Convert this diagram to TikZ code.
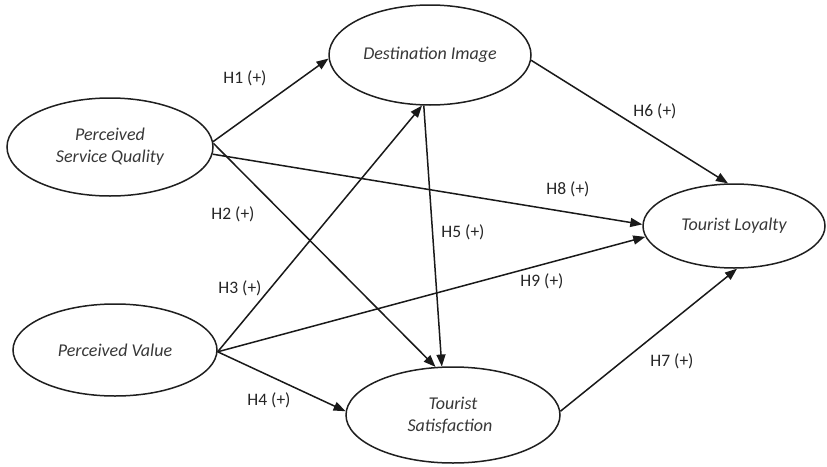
\documentclass[tikz,border=0pt]{standalone}
\usepackage{fontspec}
\setmainfont{Carlito}
\usetikzlibrary{shapes.geometric,arrows.meta}
\begin{document}
\begin{tikzpicture}[x=1pt,y=-1pt,
 latent/.style={ellipse,draw=black!88,line width=1.5pt,inner sep=0pt,align=center,font=\fontsize{18}{22}\selectfont\itshape,text=black!78},
 hpath/.style={draw=black!90,line width=1.5pt,-{Triangle[length=12pt,width=9pt]}},
 hlab/.style={font=\fontsize{17.5}{20}\selectfont,text=black!85,inner sep=0pt}]
\useasboundingbox[fill=white] (0,0) rectangle (827,466);
\node[latent,minimum width=206pt,minimum height=98pt] (psq) at (110,147) {Perceived\\Service Quality};
\node[latent,minimum width=204pt,minimum height=92pt] (pv) at (115,350) {Perceived Value};
\node[latent,minimum width=202pt,minimum height=100pt] (di) at (430,55) {Destination Image};
\node[latent,minimum width=214pt,minimum height=96pt] (ts) at (453,415) {Tourist\\Satisfaction\hspace*{6pt}};
\node[latent,minimum width=182pt,minimum height=84pt] (tl) at (734,226) {Tourist Loyalty};

\draw[hpath] (psq.3) -- (di.182);
\draw[hpath] (psq.2) -- (ts.110);
\draw[hpath] (psq.-4) -- (tl.179);
\draw[hpath] (pv.-1) -- (di.261);
\draw[hpath] (pv.-1) -- (tl.187);
\draw[hpath] (pv.-1) -- (ts.178);
\draw[hpath] (di.263) -- (ts.103);
\draw[hpath] (di.-3) -- (tl.98);
\draw[hpath] (ts.2) -- (tl.274);

\node[hlab] (l1) at (245,78) {H1 (+)};
\node[hlab] (l2) at (233,214) {H2 (+)};
\node[hlab] (l3) at (240,288) {H3 (+)};
\node[hlab] (l4) at (269,400) {H4 (+)};
\node[hlab] (l5) at (463,232) {H5 (+)};
\node[hlab] (l6) at (655,111) {H6 (+)};
\node[hlab] (l7) at (672,361) {H7 (+)};
\node[hlab] (l8) at (568,189) {H8 (+)};
\node[hlab] (l9) at (542,281) {H9 (+)};
\end{tikzpicture}
\end{document}
